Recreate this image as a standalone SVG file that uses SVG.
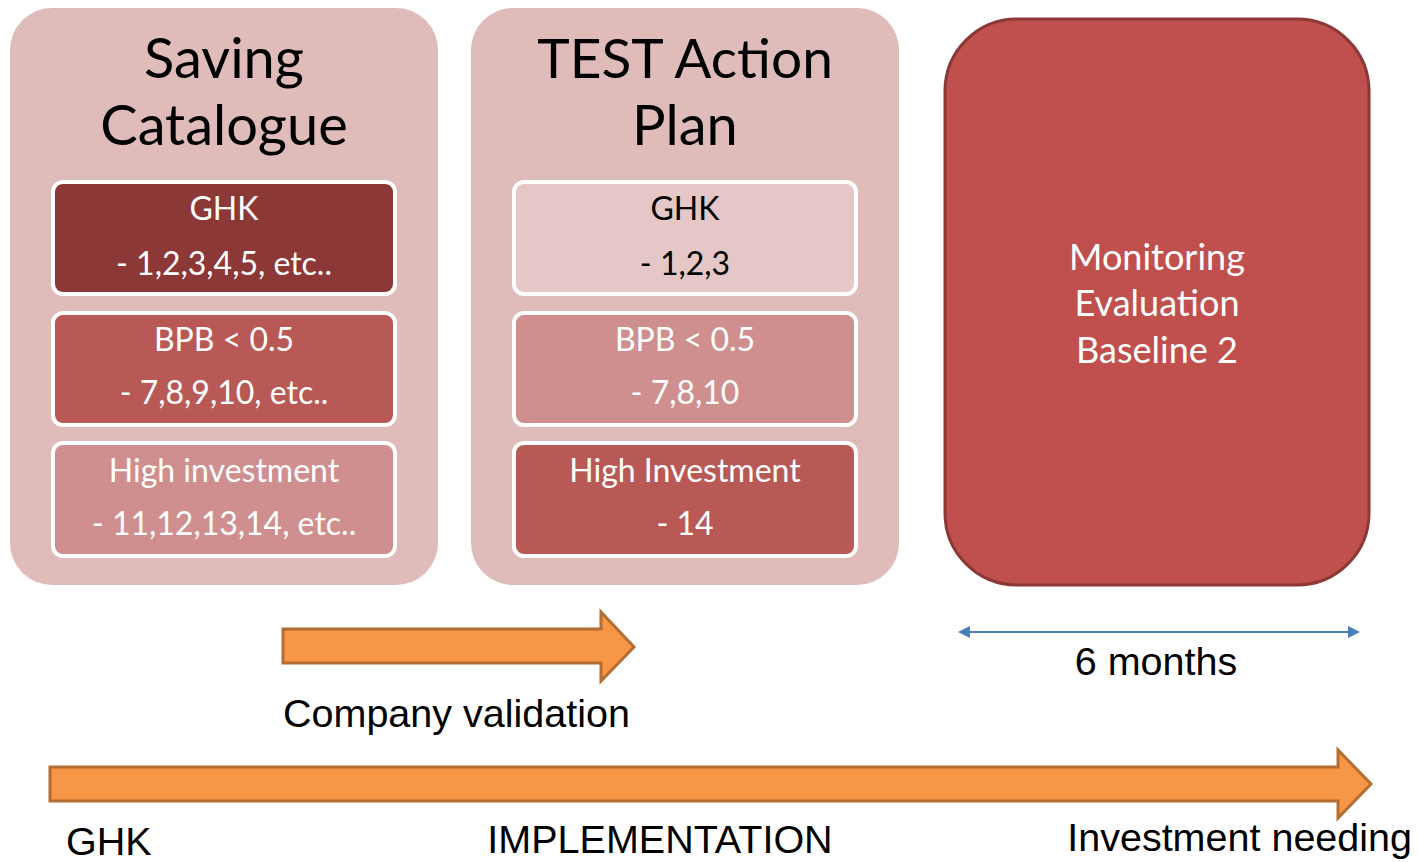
<svg xmlns="http://www.w3.org/2000/svg" width="1418" height="862" viewBox="0 0 1418 862">
<defs>
<style>
.panel{fill:#DFBBBA;stroke:none}
.box{stroke:#FFFFFF;stroke-width:4}
.dark{fill:#8C3836}
.mid{fill:#B95955}
.light{fill:#CE8F8E}
.pale{fill:#E5C7C8}
.title{font-family:Lato,"Open Sans","Liberation Sans",sans-serif;font-size:56px;fill:#000;text-anchor:middle}
.t{font-family:Lato,"Open Sans","Liberation Sans",sans-serif;font-size:32px;text-anchor:middle}
.w{fill:#FFFFFF}
.b{fill:#000000}
.lbl{font-family:"Liberation Sans",Arial,sans-serif;font-size:39.5px;fill:#000}
.fat{fill:#F79646;stroke:#B66D31;stroke-width:3;stroke-linejoin:miter}
.dim{stroke:#4A7EBB;stroke-width:2;fill:none}
</style>
<marker id="ah" markerWidth="12" markerHeight="12" refX="10" refY="6" orient="auto-start-reverse" markerUnits="userSpaceOnUse">
<path d="M0,0 L12,6 L0,12 Z" fill="#4A7EBB"/>
</marker>
</defs>
<rect width="1418" height="862" fill="#FFFFFF"/>

<g id="saving-catalogue">
<rect class="panel" x="10" y="8" width="428" height="577" rx="42"/>
<text class="title" x="224" y="78">Saving</text>
<text class="title" x="224" y="145">Catalogue</text>
</g>
<g id="sc-ghk">
<rect class="box dark" x="53" y="182" width="342" height="112" rx="10"/>
<text class="t w" x="224" y="220">GHK</text>
<text class="t w" x="224" y="275">- 1,2,3,4,5, etc..</text>
</g>
<g id="sc-bpb">
<rect class="box mid" x="53" y="313" width="342" height="112" rx="10"/>
<text class="t w" x="224" y="351">BPB &lt; 0.5</text>
<text class="t w" x="224" y="404">- 7,8,9,10, etc..</text>
</g>
<g id="sc-high">
<rect class="box light" x="53" y="443" width="342" height="113" rx="10"/>
<text class="t w" x="224" y="482">High investment</text>
<text class="t w" x="224" y="535">- 11,12,13,14, etc..</text>
</g>

<g id="test-action-plan">
<rect class="panel" x="471" y="8" width="428" height="577" rx="42"/>
<text class="title" x="685" y="78" style="font-size:55px">TEST Action</text>
<text class="title" x="685" y="145">Plan</text>
</g>
<g id="tap-ghk">
<rect class="box pale" x="514" y="182" width="342" height="112" rx="10"/>
<text class="t b" x="685" y="220">GHK</text>
<text class="t b" x="685" y="275">- 1,2,3</text>
</g>
<g id="tap-bpb">
<rect class="box light" x="514" y="313" width="342" height="112" rx="10"/>
<text class="t w" x="685" y="351">BPB &lt; 0.5</text>
<text class="t w" x="685" y="404">- 7,8,10</text>
</g>
<g id="tap-high">
<rect class="box mid" x="514" y="443" width="342" height="113" rx="10"/>
<text class="t w" x="685" y="482">High Investment</text>
<text class="t w" x="685" y="535">- 14</text>
</g>

<g id="monitoring">
<rect x="945" y="19" width="424" height="566" rx="72" fill="#C0504D" stroke="#8C3836" stroke-width="3"/>
<text class="t w" x="1157" y="270" style="font-size:36px">Monitoring</text>
<text class="t w" x="1157" y="316" style="font-size:36px">Evaluation</text>
<text class="t w" x="1157" y="363" style="font-size:36px">Baseline 2</text>
</g>

<g id="connectors">
<path class="fat" d="M283,629 L601,629 L601,612 L634,647 L601,681 L601,663 L283,663 Z"/>
<path class="fat" d="M50,767 L1338,767 L1338,750 L1371,784 L1338,818 L1338,801 L50,801 Z"/>
<line class="dim" x1="960" y1="632" x2="1358" y2="632" marker-start="url(#ah)" marker-end="url(#ah)"/>
</g>

<g id="labels">
<text class="lbl" x="283" y="727">Company validation</text>
<text class="lbl" x="1156" y="675" text-anchor="middle">6 months</text>
<text class="lbl" x="66" y="855">GHK</text>
<text class="lbl" x="660" y="853" text-anchor="middle">IMPLEMENTATION</text>
<text class="lbl" x="1412" y="851" text-anchor="end">Investment needing</text>
</g>
</svg>
